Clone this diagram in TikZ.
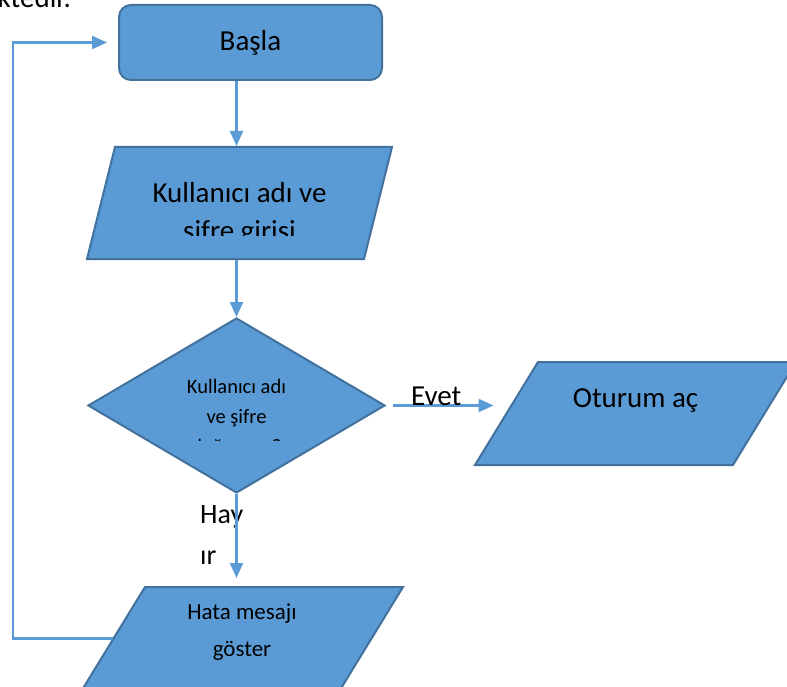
\documentclass[tikz,border=0pt]{standalone}
\usepackage{fontspec}
\setmainfont{Carlito}
\usetikzlibrary{positioning,shapes.geometric,arrows.meta}
\definecolor{kutu}{HTML}{5B9BD5}
\definecolor{kenar}{HTML}{41719C}
\tikzset{
  blok/.style={fill=kutu, draw=kenar, line width=2pt, inner sep=0pt},
  girdi/.style={blok, rectangle, minimum width=258pt, minimum height=103pt, xslant=0.612},
  akis/.style={draw=kutu, line width=2.2pt, -{Triangle[length=15pt,width=13pt]}},
  yazi/.style={font=\fontsize{29}{38.5}\selectfont, text=black, inner sep=0pt},
}
\begin{document}
\begin{tikzpicture}[x=1pt,y=-1pt]
\useasboundingbox (0,0) rectangle (787,687);
\node[yazi, anchor=base west] (ust) at (-17,8) {ektedir.};
\node[blok, yazi, rounded corners=12pt, minimum width=263pt, minimum height=75pt] (basla) at (250.5,42.5) {Başla};
\node[blok, rectangle, minimum width=277pt, minimum height=112pt, xslant=0.25] (giris) at (239.5,203) {};
\node[blok, diamond, minimum width=297pt, minimum height=175pt] (karar) at (236.5,405.5) {};
\node[girdi] (oturum) at (635.5,413.5) {};
\node[girdi] (hata) at (242.5,638.5) {};
\begin{scope}
\clip (80,150) rectangle (400,236);
\node[yazi, align=center, anchor=base] (giristxt) at (239.5,240.5) {Kullanıcı adı ve\\şifre girişi};
\end{scope}
\begin{scope}
\clip (80,320) rectangle (390,440);
\node[yazi, font=\fontsize{20.5}{30}\selectfont, align=center, anchor=base] (karartxt) at (236.5,453) {Kullanıcı adı\\ve şifre\\doğru mu?};
\end{scope}
\node[yazi, anchor=base] (oturumtxt) at (635.5,407) {Oturum aç};
\node[yazi, font=\fontsize{23}{37}\selectfont, align=center, anchor=base] (hatatxt) at (242,656) {Hata mesajı\\göster};
\node[yazi, font=\fontsize{28}{41}\selectfont, align=left, anchor=base west] (hayir) at (200,564) {Hay\\ır};
\draw[akis] (karar.north |- basla.south) -- (karar.north |- giris.north);
\draw[akis] (karar.north |- giris.south) -- (karar.north);
\draw[akis, shorten >=8pt] (karar.south) -- (karar.south |- hata.north);
\draw[akis, shorten <=7pt, shorten >=12pt] (karar.east) -- node[yazi, pos=0.42, anchor=base] (evet) {Evet} (karar.east -| oturum.west);
\coordinate (donus) at (13,638.5);
\draw[akis, shorten >=11pt] (hata.west) -- (donus) |- (basla.west);
\end{tikzpicture}
\end{document}
